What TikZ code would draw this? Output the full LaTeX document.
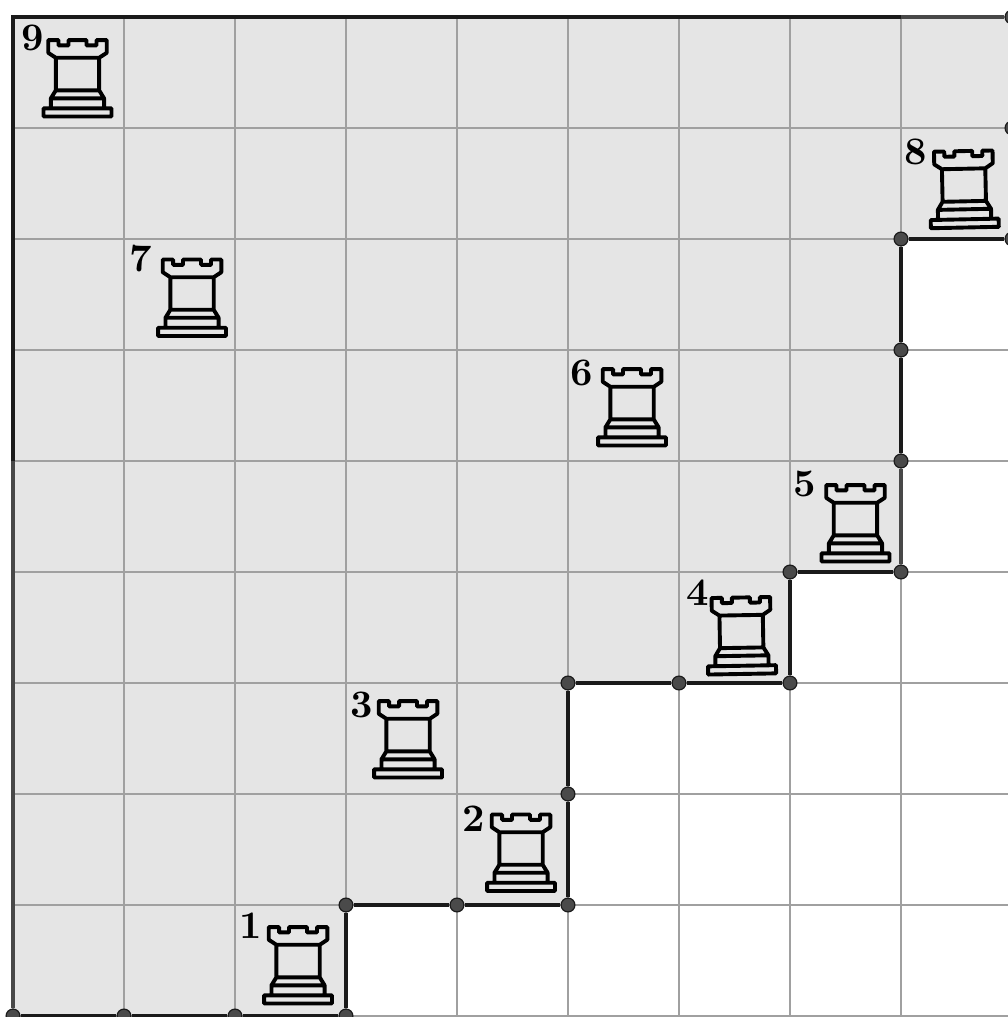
\documentclass[tikz,border=0pt]{standalone}
\usepackage{xcolor}
\definecolor{ShadeGray}{HTML}{E5E5E5}
\definecolor{GridGray}{HTML}{A0A0A0}
\definecolor{WallDark}{HTML}{1A1A1A}
\definecolor{WallSoft}{HTML}{484848}
\definecolor{DotGray}{HTML}{4A4A4A}

\tikzset{
  rook/.pic={
    \draw[rookline, x=0.009009cm, y=0.009009cm]
      (-21.7,20.3) -- (-29.3,25.3) -- (-29.3,38) -- (-19,38) -- (-19,32.7) -- (-9,32.7)
      -- (-9,38) -- (9,38) -- (9,32.7) -- (19,32.7) -- (19,38) -- (29.3,38)
      -- (29.3,25.3) -- (21.7,20.3) -- cycle
      (-21.7,20.3) -- (-21.7,-12.3) (21.7,20.3) -- (21.7,-12.3)
      (-21.7,-12.3) -- (21.7,-12.3)
      (-21.7,-12.3) -- (-26.6,-20.3) -- (-26.6,-30.3)
      (21.7,-12.3) -- (26.6,-20.3) -- (26.6,-30.3)
      (-26.6,-20.3) -- (26.6,-20.3)
      (-34,-30.3) rectangle (34,-38.5);
  }
}

\begin{document}
\begin{tikzpicture}[
  rookline/.style={line width=1pt, draw=black, line join=round},
  gridline/.style={line width=0.35pt, draw=GridGray},
  wall/.style={line width=1.05pt, draw=WallDark},
  softwall/.style={line width=1.05pt, draw=WallSoft},
  dot/.style={circle, fill=DotGray, draw=WallDark, line width=0.3pt, minimum size=0.125cm, inner sep=0pt},
  num/.style={font=\bfseries, inner sep=0pt}
]
  \useasboundingbox (-0.1171,-0.009) rectangle (8.9640,9.1532);

  % shaded part of the board
  \fill[ShadeGray] (0,0) -- (3,0) -- (3,1) -- (5,1) -- (5,3) -- (7,3) -- (7,4) -- (8,4)
    -- (8,7) -- (9,7) -- (9,9) -- (0,9) -- cycle;
  \draw[gridline] (0,0) grid (9,9);

  % points on the boundary
  \foreach \name/\pos in {a/{0,0}, b/{1,0}, c/{2,0}, d/{3,0}, e/{3,1}, f/{4,1}, g/{5,1},
      h/{5,2}, i/{5,3}, j/{6,3}, k/{7,3}, l/{7,4}, m/{8,4}, n/{8,5}, o/{8,6}, p/{8,7},
      q/{9,7}, r/{9,8}, s/{9,9}}
    \node[dot] (\name) at (\pos) {};
  \coordinate (leftmid) at (0,5);
  \coordinate (corner) at (0,9);
  \coordinate (topend) at (8,9);

  \draw[wall] (a) -- (b);
  \draw[wall] (b) -- (c);
  \draw[wall] (c) -- (d);
  \draw[wall] (d) -- (e);
  \draw[wall] (e) -- (f);
  \draw[wall] (f) -- (g);
  \draw[wall] (g) -- (h);
  \draw[wall] (h) -- (i);
  \draw[wall] (i) -- (j);
  \draw[wall] (j) -- (k);
  \draw[wall] (k) -- (l);
  \draw[wall] (l) -- (m);
  \draw[softwall] (m) -- (n);
  \draw[wall] (n) -- (o);
  \draw[wall] (o) -- (p);
  \draw[wall] (p) -- (q);
  \draw[softwall] (a) -- (leftmid);
  \draw[wall] (leftmid) -- (corner) -- (topend);
  \draw[softwall] (topend) -- (s);

  % rooks
  \foreach \pos/\tilt in {{0.581,8.450}/0, {1.613,6.473}/0, {5.577,5.486}/0, {7.590,4.441}/0,
      {6.563,3.428}/1, {3.559,2.495}/0, {4.577,1.473}/0, {2.568,0.459}/0, {8.568,7.450}/1.2}
    \pic[rotate=\tilt] at (\pos) {rook};

  % numbers
  \node[num] (n1) at (2.144,0.811) {1};
  \node[num] (n2) at (4.153,1.774) {2};
  \node[num] (n3) at (3.144,2.802) {3};
  \node[num] (n4) at (6.171,3.811) {4};
  \node[num] (n5) at (7.135,4.793) {5};
  \node[num] (n6) at (5.126,5.793) {6};
  \node[num] (n7) at (1.153,6.820) {7};
  \node[num] (n8) at (8.135,7.784) {8};
  \node[num] (n9) at (0.180,8.811) {9};
\end{tikzpicture}
\end{document}
